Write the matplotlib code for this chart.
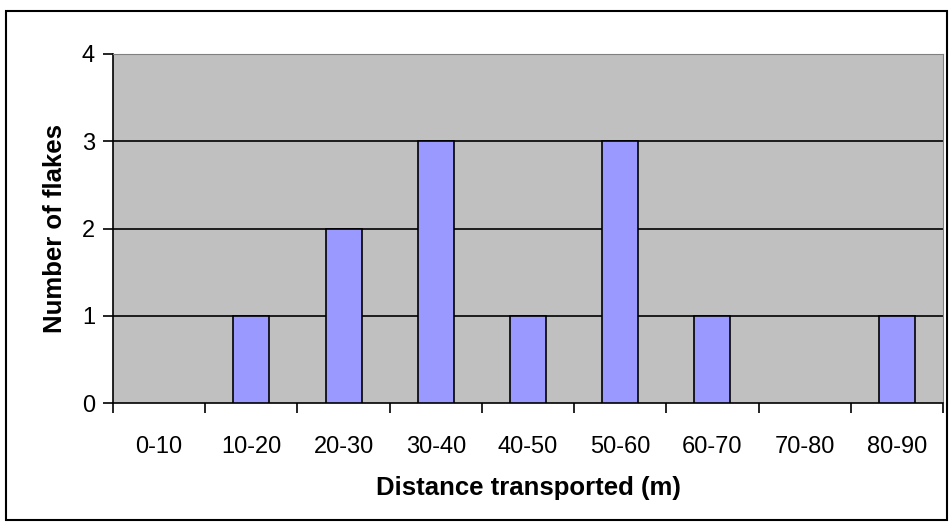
import numpy as np
import matplotlib.pyplot as plt
from matplotlib.patches import Rectangle

# Daten
kategorien = ['0-10', '10-20', '20-30', '30-40', '40-50', '50-60', '60-70', '70-80', '80-90']
anzahl = [0, 1, 2, 3, 1, 3, 1, 0, 1]

plt.rcParams['font.family'] = ['Liberation Sans', 'DejaVu Sans']

fig = plt.figure(figsize=(9.51, 5.24), dpi=100)
ax = fig.add_axes([113 / 951, 1 - 403 / 524, 830 / 951, 349 / 524])

# Rahmen um die ganze Grafik
fig.patches.append(Rectangle((6 / 951, 1 - 520 / 524), 941 / 951, 509 / 524,
                             transform=fig.transFigure, fill=False,
                             edgecolor='black', linewidth=1.5))

x = np.arange(len(kategorien))
hoehe = np.array(anzahl)
ax.set_facecolor('#C0C0C0')
# Nur Balken mit Wert > 0 zeichnen (sonst Strich auf der Achse)
ax.bar(x[hoehe > 0], hoehe[hoehe > 0], width=0.39, color='#9999FF',
       edgecolor='black', linewidth=1.2, zorder=3)

ax.set_xlim(-0.5, len(kategorien) - 0.5)
ax.set_ylim(0, 4)
ax.set_yticks([0, 1, 2, 3, 4])
for y in [1, 2, 3]:
    ax.axhline(y, color='black', linewidth=1.2, zorder=1)

# Striche zwischen den Kategorien
ax.set_xticks(np.arange(-0.5, len(kategorien)), minor=False)
ax.set_xticklabels([])
ax.set_xticks(x, minor=True)
ax.set_xticklabels(kategorien, minor=True, fontsize=17)
ax.tick_params(axis='x', which='minor', length=0, pad=24)
ax.tick_params(axis='x', which='major', length=7, width=1.2, direction='out')
ax.tick_params(axis='y', length=7, width=1.2, labelsize=17, pad=6)

ax.spines['left'].set_linewidth(1.2)
ax.spines['bottom'].set_linewidth(1.2)
ax.spines['top'].set_color('#808080')
ax.spines['right'].set_color('#808080')

ax.set_xlabel('Distance transported (m)', fontsize=18.5, fontweight='bold', labelpad=13)
ax.set_ylabel('Number of flakes', fontsize=18.5, fontweight='bold', labelpad=11)

fig.savefig('out.png', dpi=100)
